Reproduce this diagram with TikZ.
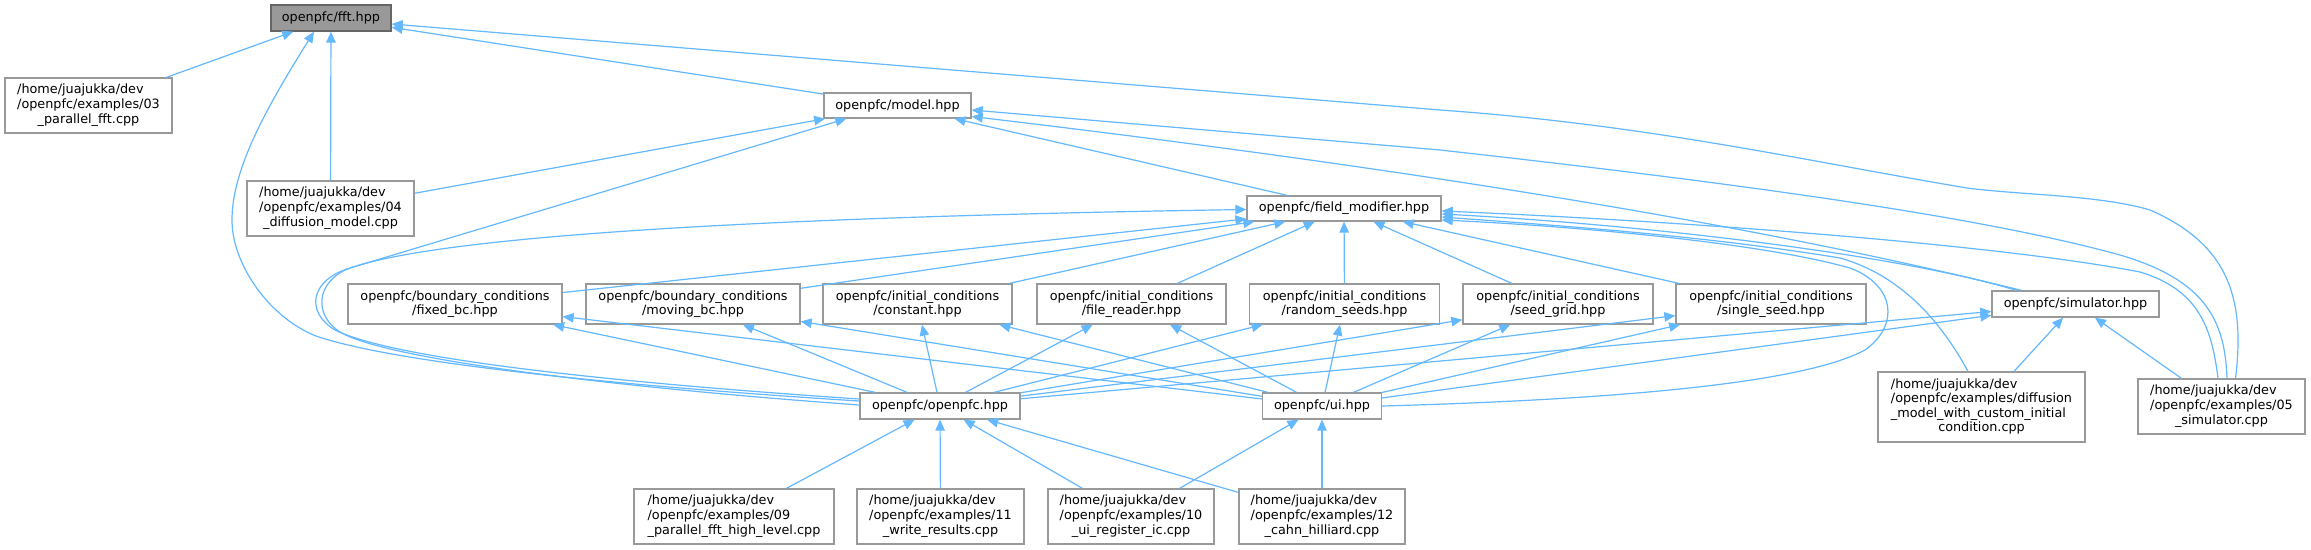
\documentclass[tikz,border=0pt]{standalone}
\usepackage{fontspec}
\setmainfont{DejaVu Sans}
\usepackage{xcolor}
\usepackage{tikz}
\usetikzlibrary{arrows.meta,calc}
\definecolor{edgeblue}{HTML}{63B8FF}
\definecolor{boxline}{HTML}{999999}
\definecolor{rootline}{HTML}{666666}
\definecolor{rootfill}{HTML}{999999}
\newcommand{\pathlines}[3]{\begin{tabular}{@{}l@{}}#1\\#2\\\multicolumn{1}{@{}c@{}}{#3}\end{tabular}}

\begin{document}
\begin{tikzpicture}[
  x=1pt, y=-1pt,
  file/.style={draw=boxline, line width=1.3pt, fill=white, inner sep=0pt, align=center,
               font=\fontsize{12.8}{14.6}\selectfont},
  root/.style={file, draw=rootline, fill=rootfill},
  sz/.style 2 args={minimum width=#1pt, minimum height=#2pt},
  dep/.style={-{Triangle[length=11pt, width=9.5pt]}, line width=1.2pt, draw=edgeblue, fill=none}
]
\fill[white] (0,0) rectangle (2311,549);
\useasboundingbox (0,0) rectangle (2311,549);

% top levels
\node[root, sz={120}{26}] (fft) at (331,18) {openpfc/fft.hpp};
\node[file, sz={167}{55}] (ex03) at (88.5,105.5) {\pathlines{/home/juajukka/dev}{/openpfc/examples/03}{\_parallel\_fft.cpp}};
\node[file, sz={167}{55}] (ex04) at (330.5,208.5) {\pathlines{/home/juajukka/dev}{/openpfc/examples/04}{\_diffusion\_model.cpp}};
\node[file, sz={147}{25}] (model) at (897.5,105.5) {openpfc/model.hpp};
\node[file, sz={194}{25}] (fm) at (1344,208.5) {openpfc/field\_modifier.hpp};

% boundary and initial conditions
\node[file, sz={214}{40}] (fixedbc) at (455,304) {openpfc/boundary\_conditions\\/fixed\_bc.hpp};
\node[file, sz={214}{40}] (movingbc) at (693,304) {openpfc/boundary\_conditions\\/moving\_bc.hpp};
\node[file, sz={189}{40}] (constant) at (917.5,304) {openpfc/initial\_conditions\\/constant.hpp};
\node[file, sz={189}{40}] (filereader) at (1131.5,304) {openpfc/initial\_conditions\\/file\_reader.hpp};
\node[file, sz={190}{40}] (randomseeds) at (1344.5,304) {openpfc/initial\_conditions\\/random\_seeds.hpp};
\node[file, sz={190}{40}] (seedgrid) at (1558,304) {openpfc/initial\_conditions\\/seed\_grid.hpp};
\node[file, sz={190}{40}] (singleseed) at (1771,304) {openpfc/initial\_conditions\\/single\_seed.hpp};
\node[file, sz={167}{26}] (sim) at (2075.5,304) {openpfc/simulator.hpp};

% lower levels
\node[file, sz={160}{26}] (opfc) at (940,406) {openpfc/openpfc.hpp};
\node[file, sz={119}{26}] (ui) at (1322,406) {openpfc/ui.hpp};
\node[file, sz={207}{70}] (diff) at (1981.5,407) {\begin{tabular}{@{}l@{}}/home/juajukka/dev\\/openpfc/examples/diffusion\\\_model\_with\_custom\_initial\\\multicolumn{1}{@{}c@{}}{condition.cpp}\end{tabular}};
\node[file, sz={167}{55}] (ex05) at (2221.5,406.5) {\pathlines{/home/juajukka/dev}{/openpfc/examples/05}{\_simulator.cpp}};
\node[file, sz={200}{55}] (ex09) at (734,516.5) {\pathlines{/home/juajukka/dev}{/openpfc/examples/09}{\_parallel\_fft\_high\_level.cpp}};
\node[file, sz={167}{55}] (ex11) at (940.5,516.5) {\pathlines{/home/juajukka/dev}{/openpfc/examples/11}{\_write\_results.cpp}};
\node[file, sz={166}{55}] (ex10) at (1131,516.5) {\pathlines{/home/juajukka/dev}{/openpfc/examples/10}{\_ui\_register\_ic.cpp}};
\node[file, sz={166}{55}] (ex12) at (1322,516.5) {\pathlines{/home/juajukka/dev}{/openpfc/examples/12}{\_cahn\_hilliard.cpp}};

% includes of fft.hpp
\draw[dep] (ex03) -- (fft);
\draw[dep] (ex04) -- (fft);
\draw[dep] (model) -- (fft);
\draw[dep] ($(opfc.west)+(0,-5)$) .. controls (650,388) and (400,365) .. (316,336)
  .. controls (270,318) and (232,265) .. (232,220) .. controls (232,170) and (265,110) .. ($(fft.south)+(-17,0)$);
\draw[dep] ($(ex05.north)+(14,0)$) .. controls (2245,300) and (2230,245) .. (2150,210)
  .. controls (2100,195) and (2020,195) .. (1967,188) .. controls (1800,160) and (1650,125) .. (1440,110)
  -- ($(fft.east)+(0,6)$);

% includes of model.hpp
\draw[dep] (ex04) -- (model);
\draw[dep] (fm) -- (model);
\draw[dep] ($(opfc.west)+(0,-7)$) .. controls (650,385) and (400,362) .. (335,330)
  .. controls (305,312) and (310,280) .. (350,268) -- ($(model.south west)+(23,0)$);
\draw[dep] ($(sim.north west)+(30,0)$) .. controls (1850,248) and (1550,185) .. ($(model.east)+(0,11)$);
\draw[dep] ($(ex05.north)+(5.5,0)$) .. controls (2225,320) and (2205,280) .. (2120,255)
  .. controls (2000,222) and (1800,190) .. (1440,150) -- ($(model.east)+(0,4.5)$);

% includes of field_modifier.hpp
\draw[dep] ($(opfc.west)+(0,-1)$) .. controls (650,390) and (390,362) .. (340,332)
  .. controls (315,316) and (315,285) .. (345,270) .. controls (420,240) and (700,218) .. ($(fm.west)+(0,1)$);
\draw[dep] (fixedbc) -- (fm);
\draw[dep] (movingbc) -- (fm);
\draw[dep] (constant) -- (fm);
\draw[dep] (filereader) -- (fm);
\draw[dep] (randomseeds) -- (fm);
\draw[dep] (seedgrid) -- (fm);
\draw[dep] (singleseed) -- (fm);
\draw[dep] ($(sim.north west)+(25,0)$) .. controls (1900,255) and (1650,225) .. ($(fm.east)+(0,5.5)$);
\draw[dep] ($(diff.north)+(-13.5,0)$) .. controls (1940,320) and (1900,275) .. (1840,258)
  .. controls (1700,235) and (1550,225) .. ($(fm.east)+(0,8.5)$);
\draw[dep] (ui.east) .. controls (1600,400) and (1800,385) .. (1865,350)
  .. controls (1900,325) and (1895,285) .. (1850,268) .. controls (1750,240) and (1550,225) .. ($(fm.east)+(0,11.5)$);
\draw[dep] ($(ex05.north)+(-3.5,0)$) .. controls (2212,330) and (2200,290) .. (2140,272)
  .. controls (2000,245) and (1700,222) .. ($(fm.east)+(0,2.5)$);

% includes of simulator.hpp
\draw[dep] (opfc) -- (sim);
\draw[dep] (ui) -- (sim);
\draw[dep] (diff) -- (sim);
\draw[dep] (ex05) -- (sim);

% openpfc.hpp and ui.hpp
\foreach \hdr in {fixedbc,movingbc,constant,filereader,randomseeds,seedgrid,singleseed}{
  \draw[dep] (opfc) -- (\hdr);
  \draw[dep] (ui) -- (\hdr);
}
\draw[dep] (ex09) -- (opfc);
\draw[dep] (ex11) -- (opfc);
\draw[dep] (ex10) -- (opfc);
\draw[dep] (ex12) -- (opfc);
\draw[dep] (ex10) -- (ui);
\draw[dep] (ex12) -- (ui);
\end{tikzpicture}
\end{document}
